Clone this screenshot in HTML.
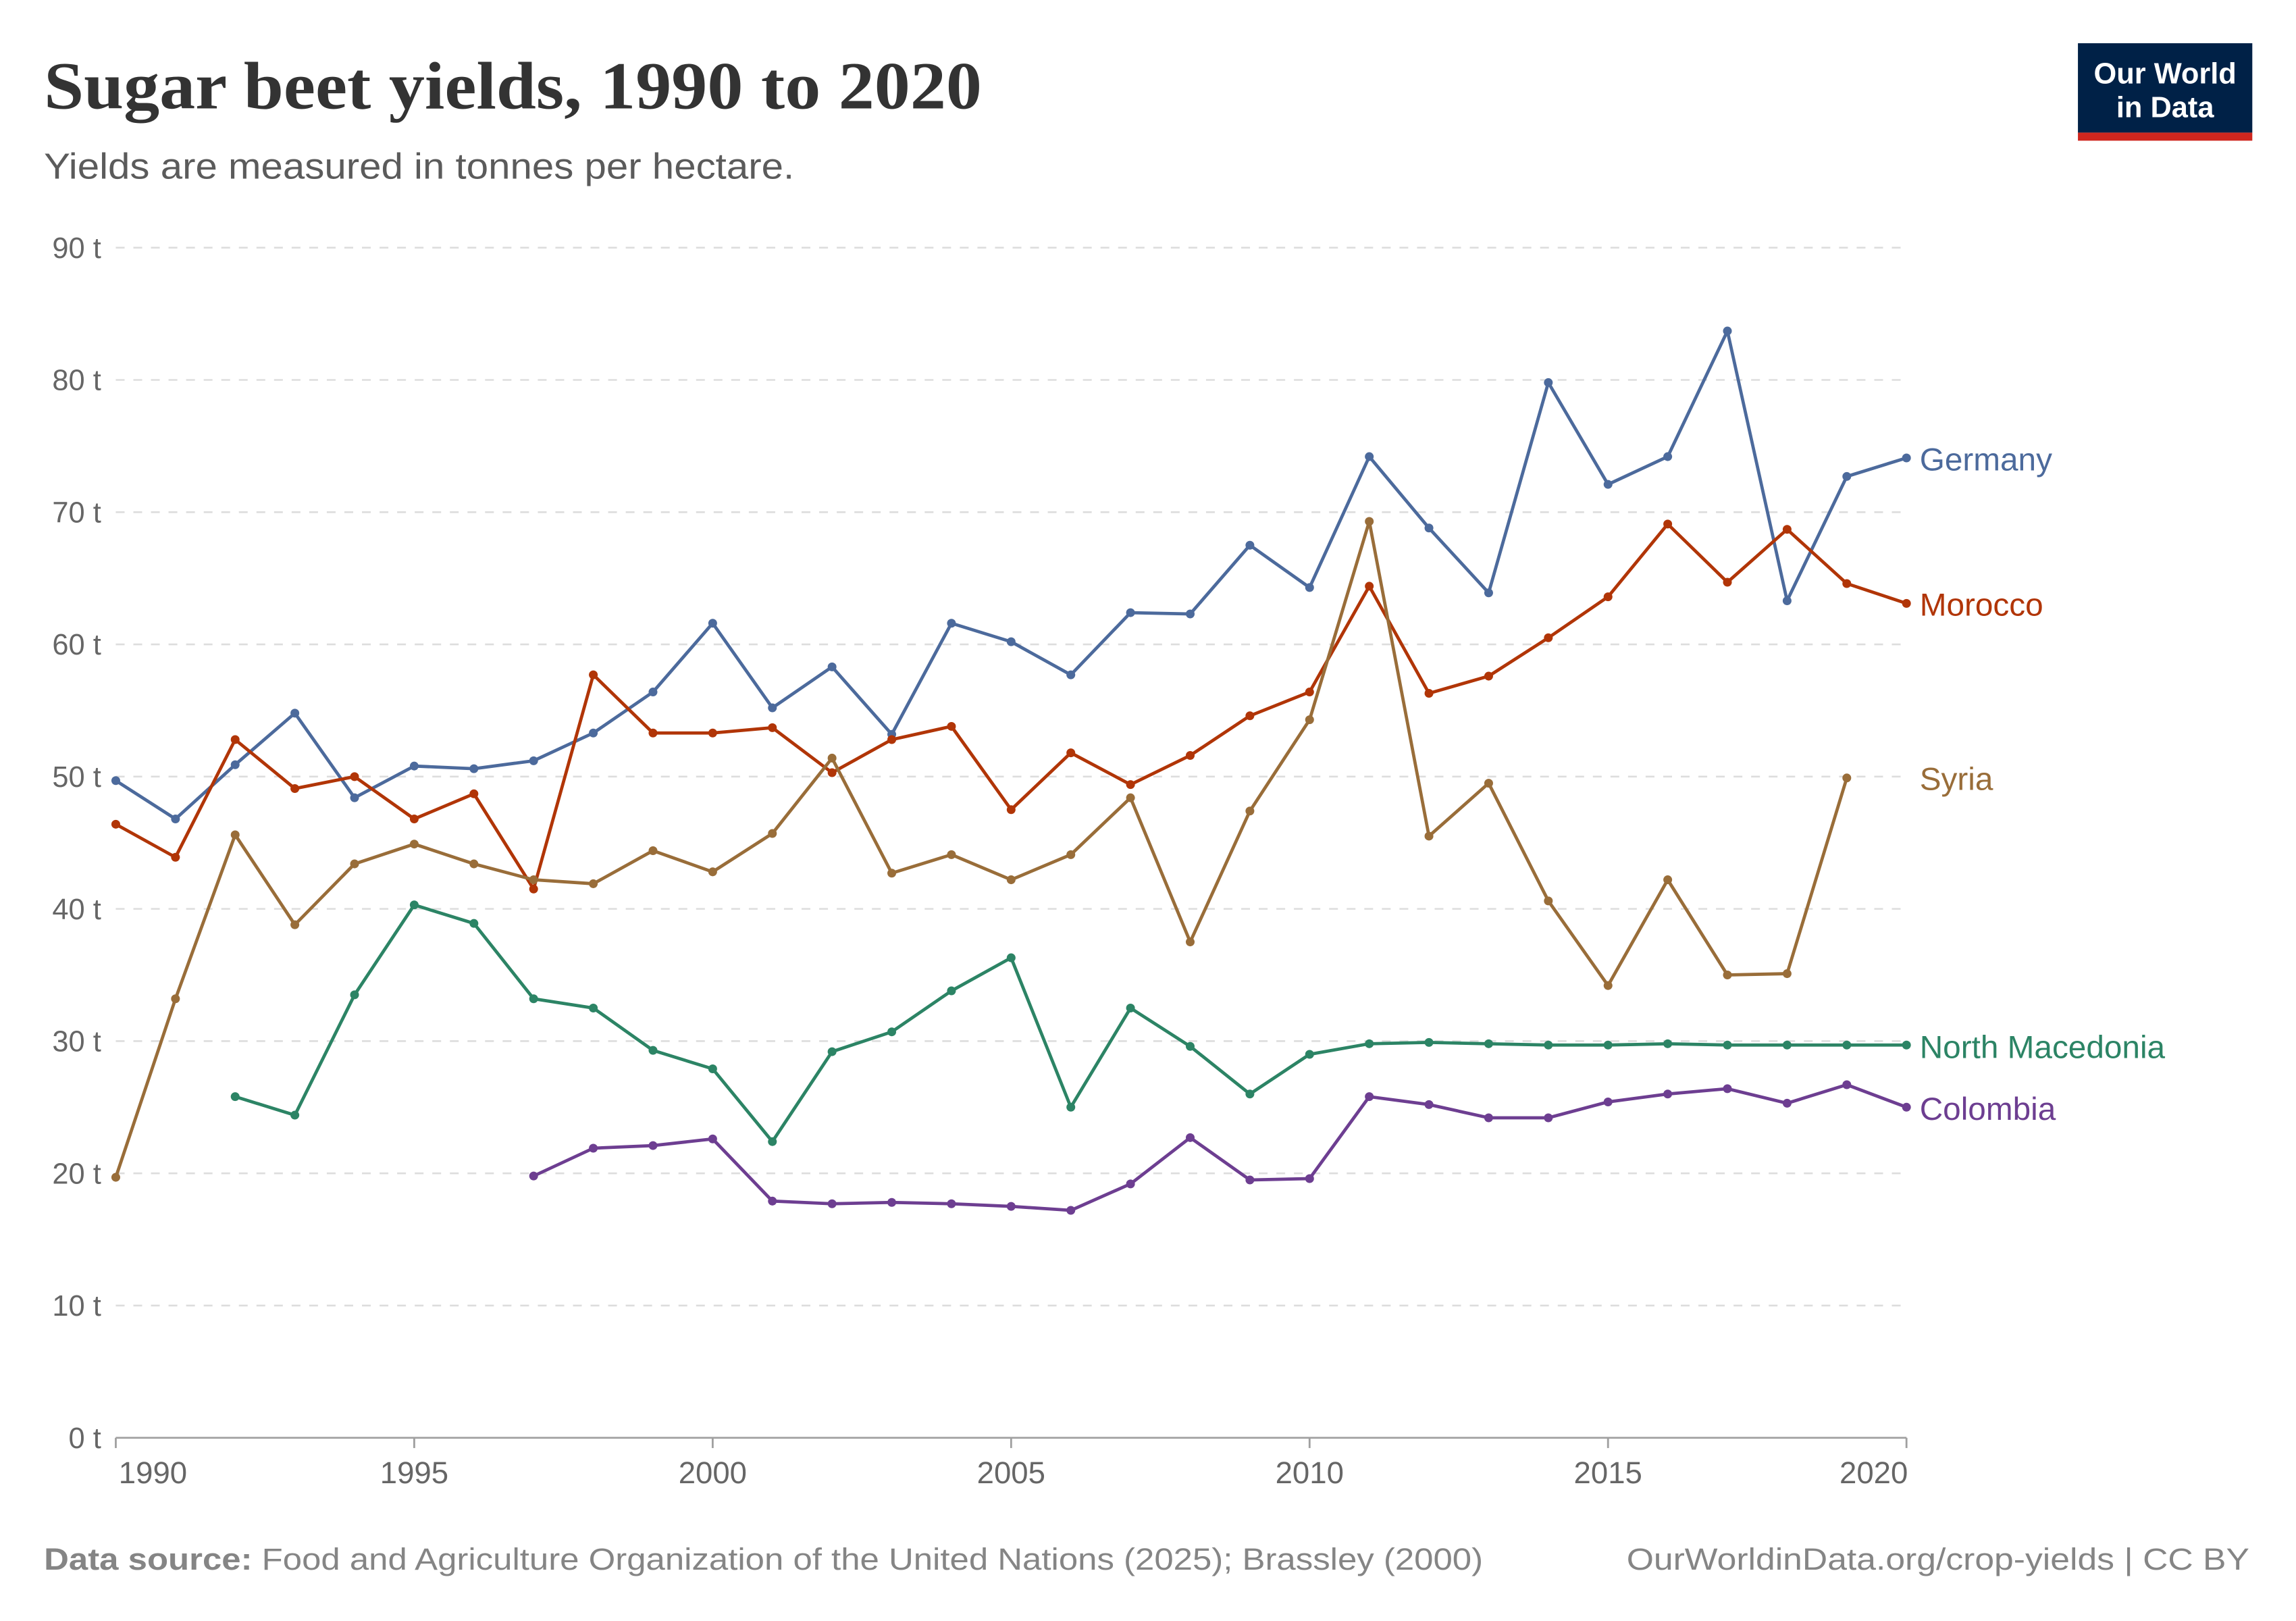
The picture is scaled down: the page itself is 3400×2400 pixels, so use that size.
<!DOCTYPE html>
<html><head><meta charset="utf-8"><style>
html,body{margin:0;padding:0;background:#fff}
svg{display:block}
text{font-family:"Liberation Sans",sans-serif}
</style></head><body>
<svg id="c" width="3400" height="2400" viewBox="0 0 1566.8 1106" xmlns="http://www.w3.org/2000/svg">
<rect width="1566.8" height="1106" fill="#fff"/>
<text x="30" y="74" font-weight="bold" font-size="46" fill="#333" textLength="640" lengthAdjust="spacingAndGlyphs" style="font-family:'Liberation Serif',serif">Sugar beet yields, 1990 to 2020</text>
<text x="30" y="122" font-size="25" fill="#5b5b5b" textLength="512" lengthAdjust="spacingAndGlyphs">Yields are measured in tonnes per hectare.</text>
<rect x="1418" y="29.5" width="119" height="61" fill="#002147"/>
<rect x="1418" y="90.5" width="119" height="5.5" fill="#ce261e"/>
<text x="1477.5" y="57" font-size="20" font-weight="bold" fill="#fff" text-anchor="middle">Our World</text>
<text x="1477.5" y="80" font-size="20" font-weight="bold" fill="#fff" text-anchor="middle">in Data</text>
<g id="grid"></g>
<g id="series"></g>
<text x="30" y="1071" font-size="21" fill="#858585" textLength="982" lengthAdjust="spacingAndGlyphs"><tspan font-weight="bold">Data source:</tspan> Food and Agriculture Organization of the United Nations (2025); Brassley (2000)</text>
<text x="1110" y="1071" font-size="21" fill="#858585" textLength="425" lengthAdjust="spacingAndGlyphs">OurWorldinData.org/crop-yields | CC BY</text>
</svg>
<script>
var NS="http://www.w3.org/2000/svg";
function el(p,t,a,txt){var e=document.createElementNS(NS,t);for(var k in a)e.setAttribute(k,a[k]);if(txt!==undefined)e.textContent=txt;p.appendChild(e);return e;}
var X0=79,X1=1301,Y0=981,Y90=169;
function X(y){return X0+(y-1990)*(X1-X0)/30;}
function Y(v){return Y0-(v)*(Y0-Y90)/90;}
var g=document.getElementById('grid');
for(var v=10;v<=90;v+=10){el(g,'line',{x1:X0,x2:X1,y1:Y(v),y2:Y(v),stroke:'#ddd','stroke-width':1.2,'stroke-dasharray':'6,6'});}
for(var v=0;v<=90;v+=10){el(g,'text',{x:69,y:Y(v)+7,'font-size':20,fill:'#666','text-anchor':'end'},v+' t');}
el(g,'line',{x1:X0,x2:X1,y1:Y0,y2:Y0,stroke:'#a0a0a0','stroke-width':1.3});
[1990,1995,2000,2005,2010,2015,2020].forEach(function(y){
 el(g,'line',{x1:X(y),x2:X(y),y1:Y0,y2:Y0+7,stroke:'#a0a0a0','stroke-width':1.3});
 var anchor=y==1990?'start':(y==2020?'end':'middle');var xx=y==1990?X(y)+2:(y==2020?X(y)+1:X(y));
 el(g,'text',{x:xx,y:1012,'font-size':21,fill:'#666','text-anchor':anchor},String(y));
});
var S=[
 {n:'Germany',c:'#4c6a9c',s:1990,ly:314,d:[49.7,46.8,50.9,54.8,48.4,50.8,50.6,51.2,53.3,56.4,61.6,55.2,58.3,53.2,61.6,60.2,57.7,62.4,62.3,67.5,64.3,74.2,68.8,63.9,79.8,72.1,74.2,83.7,63.3,72.7,74.1]},
 {n:'Morocco',c:'#b13507',s:1990,ly:413,d:[46.4,43.9,52.8,49.1,50.0,46.8,48.7,41.5,57.7,53.3,53.3,53.7,50.3,52.8,53.8,47.5,51.8,49.4,51.6,54.6,56.4,64.4,56.3,57.6,60.5,63.6,69.1,64.7,68.7,64.6,63.1]},
 {n:'Syria',c:'#996d39',s:1990,ly:532,d:[19.7,33.2,45.6,38.8,43.4,44.9,43.4,42.2,41.9,44.4,42.8,45.7,51.4,42.7,44.1,42.2,44.1,48.4,37.5,47.4,54.3,69.3,45.5,49.5,40.6,34.2,42.2,35.0,35.1,49.9]},
 {n:'North Macedonia',c:'#2c8465',s:1992,ly:715,d:[25.8,24.4,33.5,40.3,38.9,33.2,32.5,29.3,27.9,22.4,29.2,30.7,33.8,36.3,25.0,32.5,29.6,26.0,29.0,29.8,29.9,29.8,29.7,29.7,29.8,29.7,29.7,29.7,29.7]},
 {n:'Colombia',c:'#6d3e91',s:1997,ly:757,d:[19.8,21.9,22.1,22.6,17.9,17.7,17.8,17.7,17.5,17.2,19.2,22.7,19.5,19.6,25.8,25.2,24.2,24.2,25.4,26.0,26.4,25.3,26.7,25.0]}
];
var sg=document.getElementById('series');
S.forEach(function(s){
 var pts=s.d.map(function(v,i){return X(s.s+i).toFixed(2)+','+Y(v).toFixed(2);}).join(' ');
 el(sg,'polyline',{points:pts,fill:'none',stroke:s.c,'stroke-width':2.2,'stroke-linejoin':'round'});
 s.d.forEach(function(v,i){el(sg,'circle',{cx:X(s.s+i),cy:Y(v),r:3,fill:s.c});});
 el(sg,'text',{x:1310,y:s.ly+7,'font-size':22,fill:s.c},s.n);
});
</script>
</body></html>
